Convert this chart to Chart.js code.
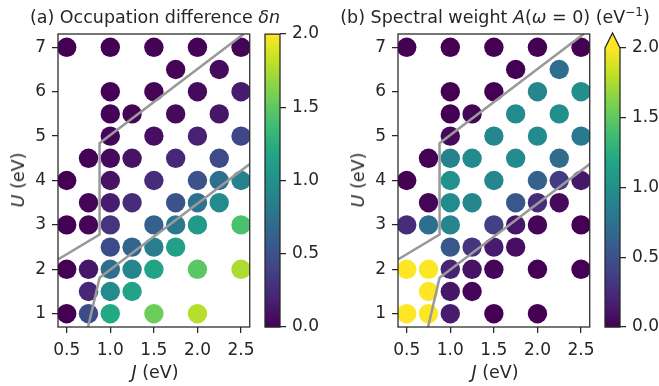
<!DOCTYPE html>
<html>
<head>
<meta charset="utf-8">
<script src="https://cdn.jsdelivr.net/npm/chart.js@4.4.1/dist/chart.umd.min.js"></script>
<style>
  body { margin: 0; background: #fff; }
  #fig { position: relative; width: 659px; height: 386px; overflow: hidden;
         font-family: 'DejaVu Sans', sans-serif; color: #262626; }
  #fig canvas { position: absolute; top: 0; }
  .lbl { position: absolute; font-size: 17.5px; line-height: 20px; white-space: nowrap;
         transform: translate(-50%, -50%); }
  .rot { transform: translate(-50%, -50%) rotate(-90deg); }
  sup { font-size: 12px; vertical-align: 7px; line-height: 0; }
</style>
</head>
<body>
<div id="fig">
  <canvas id="panelA" width="262" height="386" style="left:0px"></canvas>
  <canvas id="barA" width="70" height="386" style="left:262px"></canvas>
  <canvas id="panelB" width="262" height="386" style="left:340px"></canvas>
  <canvas id="barB" width="57" height="386" style="left:602px"></canvas>

  <div class="lbl" style="left:155px;top:17px">(a) Occupation difference <i>δn</i></div>
  <div class="lbl" style="left:495px;top:17px">(b) Spectral weight <i>A</i>(<i>ω</i> = 0) (eV<sup>−1</sup>)</div>
  <div class="lbl" style="left:155px;top:372px"><i>J</i> (eV)</div>
  <div class="lbl" style="left:495px;top:372px"><i>J</i> (eV)</div>
  <div class="lbl rot" style="left:18px;top:180px"><i>U</i> (eV)</div>
  <div class="lbl rot" style="left:358px;top:180px"><i>U</i> (eV)</div>
</div>
<script>
// grid of (J, U) points, listed row by row from U = 1 upwards
const jPoints = [
  0.5, 0.75, 1.0, 1.5, 2.0,
  0.75, 1.0, 1.25,
  0.5, 0.75, 1.0, 1.25, 1.5, 2.0, 2.5,
  1.0, 1.25, 1.5, 1.75,
  0.5, 0.75, 1.0, 1.5, 1.75, 2.0, 2.5,
  0.75, 1.0, 1.25, 1.75, 2.0, 2.25,
  0.5, 1.0, 1.5, 2.0, 2.25, 2.5,
  0.75, 1.0, 1.25, 1.75, 2.25,
  1.0, 1.5, 2.0, 2.5,
  1.0, 1.25, 1.75, 2.25,
  1.0, 1.5, 2.0, 2.5,
  1.75, 2.25,
  0.5, 1.0, 1.5, 2.0, 2.5
];
const uPoints = [
  1, 1, 1, 1, 1,
  1.5, 1.5, 1.5,
  2, 2, 2, 2, 2, 2, 2,
  2.5, 2.5, 2.5, 2.5,
  3, 3, 3, 3, 3, 3, 3,
  3.5, 3.5, 3.5, 3.5, 3.5, 3.5,
  4, 4, 4, 4, 4, 4,
  4.5, 4.5, 4.5, 4.5, 4.5,
  5, 5, 5, 5,
  5.5, 5.5, 5.5, 5.5,
  6, 6, 6, 6,
  6.5, 6.5,
  7, 7, 7, 7, 7
];

// (a) occupation difference
const deltaN = [
  0.0, 0.45, 1.2, 1.55, 1.78,
  0.22, 0.95, 1.15,
  0.0, 0.12, 0.72, 0.9, 1.15, 1.48, 1.75,
  0.45, 0.65, 0.85, 1.12,
  0.0, 0.03, 0.3, 0.62, 0.8, 1.08, 1.42,
  0.02, 0.15, 0.25, 0.52, 0.75, 0.95,
  0.0, 0.1, 0.25, 0.5, 0.72, 0.88,
  0.0, 0.05, 0.1, 0.22, 0.45,
  0.03, 0.08, 0.18, 0.42,
  0.01, 0.02, 0.05, 0.12,
  0.01, 0.02, 0.05, 0.15,
  0.02, 0.06,
  0.0, 0.0, 0.01, 0.01, 0.02
];

// (b) spectral weight at the Fermi level
const spectralA = [
  2.4, 2.3, 0.15, 0.0, 0.0,
  2.2, 0.12, 0.02,
  2.3, 2.2, 0.2, 0.1, 0.03, 0.0, 0.0,
  0.55, 0.3, 0.15, 0.08,
  0.25, 0.72, 0.9, 0.38, 0.12, 0.03, 0.0,
  0.02, 0.95, 0.92, 0.55, 0.25, 0.05,
  0.0, 1.0, 0.92, 0.62, 0.35, 0.12,
  0.0, 0.88, 0.95, 0.95, 0.7,
  0.05, 0.92, 0.95, 0.82,
  0.0, 0.02, 0.95, 0.98,
  0.0, 0.0, 0.92, 0.98,
  0.0, 0.72,
  0.0, 0.0, 0.0, 0.0, 0.0
];

// phase boundaries
const upperJ = [0.4, 0.877, 0.877, 2.53];
const upperU = [2.22, 2.78, 4.84, 7.3];
const lowerJ = [0.745, 0.877, 2.6];
const lowerU = [0.7, 1.81, 4.37];

const jTicks = [0.5, 1.0, 1.5, 2.0, 2.5];
const uTicks = [1, 2, 3, 4, 5, 6, 7];
const cbarTicks = [0.0, 0.5, 1.0, 1.5, 2.0];
const cbarMax = 2.0;

const viridisStops = ['#440154', '#482475', '#414487', '#355f8d', '#2a788e', '#21918c',
                      '#22a884', '#44bf70', '#7ad151', '#bddf26', '#fde725'];

function hexRgb(h) {
  return [parseInt(h.substr(1, 2), 16), parseInt(h.substr(3, 2), 16), parseInt(h.substr(5, 2), 16)];
}
function viridis(t) {
  t = Math.max(0, Math.min(1, t));
  const p = t * (viridisStops.length - 1);
  const i = Math.min(Math.floor(p), viridisStops.length - 2);
  const f = p - i;
  const a = hexRgb(viridisStops[i]), b = hexRgb(viridisStops[i + 1]);
  const c = a.map((v, k) => Math.round(v + (b[k] - v) * f));
  return 'rgb(' + c.join(',') + ')';
}
function toXY(xs, ys) {
  return xs.map((x, i) => ({ x: x, y: ys[i] }));
}

const inkColor = '#262626';
const tickFont = { family: 'DejaVu Sans', size: 17 };

// axes frame on all four sides
const frameBox = {
  id: 'frameBox',
  afterDatasetsDraw(chart) {
    const a = chart.chartArea, ctx = chart.ctx;
    ctx.save();
    ctx.strokeStyle = inkColor;
    ctx.lineWidth = 1.25;
    ctx.strokeRect(a.left, a.top, a.right - a.left, a.bottom - a.top);
    ctx.restore();
  }
};

// viridis gradient inside the colorbar axes, optional arrow for values above max
const colorStrip = {
  id: 'colorStrip',
  beforeDatasetsDraw(chart, args, opts) {
    const a = chart.chartArea, ctx = chart.ctx;
    const g = ctx.createLinearGradient(0, a.bottom, 0, a.top);
    viridisStops.forEach((c, i) => g.addColorStop(i / (viridisStops.length - 1), c));
    ctx.save();
    ctx.fillStyle = g;
    ctx.fillRect(a.left, a.top, a.right - a.left, a.bottom - a.top);
    ctx.beginPath();
    if (opts.extendMax) {
      ctx.fillStyle = viridisStops[viridisStops.length - 1];
      ctx.beginPath();
      ctx.moveTo(a.left, a.top);
      ctx.lineTo((a.left + a.right) / 2, a.top - 15);
      ctx.lineTo(a.right, a.top);
      ctx.closePath();
      ctx.fill();
      ctx.beginPath();
      ctx.moveTo(a.left, a.bottom);
      ctx.lineTo(a.left, a.top);
      ctx.lineTo((a.left + a.right) / 2, a.top - 15);
      ctx.lineTo(a.right, a.top);
      ctx.lineTo(a.right, a.bottom);
      ctx.closePath();
    } else {
      ctx.rect(a.left, a.top, a.right - a.left, a.bottom - a.top);
    }
    ctx.strokeStyle = inkColor;
    ctx.lineWidth = 1.25;
    ctx.stroke();
    ctx.restore();
  }
};

function boundary(xs, ys) {
  return {
    data: toXY(xs, ys), showLine: true, borderColor: '#999999', borderWidth: 2.5,
    pointRadius: 0, fill: false, tension: 0, clip: 0
  };
}

function panelChart(id, values) {
  return new Chart(document.getElementById(id), {
    type: 'scatter',
    data: {
      datasets: [
        boundary(upperJ, upperU),
        boundary(lowerJ, lowerU),
        {
          data: toXY(jPoints, uPoints),
          pointRadius: 9.7,
          pointBorderWidth: 0,
          pointBackgroundColor: values.map(v => viridis(v / cbarMax)),
          clip: 0
        }
      ]
    },
    options: {
      responsive: false,
      devicePixelRatio: 1,
      animation: false,
      events: [],
      layout: { padding: { top: 34, right: 10, left: 0, bottom: 0 } },
      plugins: { legend: { display: false }, tooltip: { enabled: false } },
      scales: {
        x: {
          type: 'linear', min: 0.4, max: 2.6,
          afterBuildTicks: s => { s.ticks = jTicks.map(v => ({ value: v })); },
          afterFit: s => { s.height = 59; },
          ticks: { callback: v => v.toFixed(1), font: tickFont, color: inkColor,
                   padding: 7, maxRotation: 0, autoSkip: false },
          grid: { drawOnChartArea: false, tickLength: 6, color: inkColor, lineWidth: 1.25 },
          border: { display: false }
        },
        y: {
          type: 'linear', min: 0.7, max: 7.3,
          afterBuildTicks: s => { s.ticks = uTicks.map(v => ({ value: v })); },
          afterFit: s => { s.width = 58; },
          ticks: { callback: v => String(v), font: tickFont, color: inkColor,
                   padding: 6, autoSkip: false },
          grid: { drawOnChartArea: false, tickLength: 6, color: inkColor, lineWidth: 1.25 },
          border: { display: false }
        }
      }
    },
    plugins: [frameBox]
  });
}

function colorbarChart(id, top, axisWidth, extendMax) {
  return new Chart(document.getElementById(id), {
    type: 'scatter',
    data: { datasets: [] },
    options: {
      responsive: false,
      devicePixelRatio: 1,
      animation: false,
      events: [],
      layout: { padding: { top: top, left: 3, right: 0, bottom: 59 } },
      plugins: { legend: { display: false }, tooltip: { enabled: false },
                 colorStrip: { extendMax: extendMax } },
      scales: {
        x: { display: false },
        y: {
          position: 'right', min: 0, max: cbarMax,
          afterBuildTicks: s => { s.ticks = cbarTicks.map(v => ({ value: v })); },
          afterFit: s => { s.width = axisWidth; },
          ticks: { callback: v => v.toFixed(1), font: tickFont, color: inkColor,
                   padding: 6, autoSkip: false },
          grid: { drawOnChartArea: false, tickLength: 6, color: inkColor, lineWidth: 1.25 },
          border: { display: false }
        }
      }
    },
    plugins: [colorStrip]
  });
}

panelChart('panelA', deltaN);
panelChart('panelB', spectralA);
colorbarChart('barA', 34, 52, false);
colorbarChart('barB', 48, 39, true);
</script>
</body>
</html>
